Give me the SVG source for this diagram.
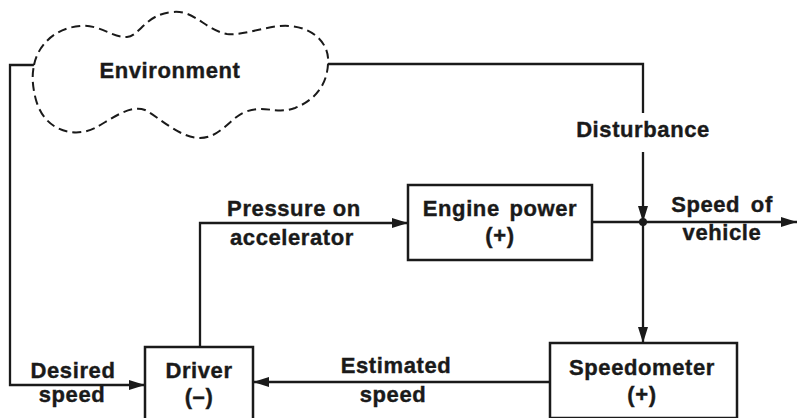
<svg xmlns="http://www.w3.org/2000/svg" width="797" height="418" viewBox="0 0 797 418">
<style>
text{font-family:"Liberation Sans",Arial,sans-serif;font-weight:bold;font-size:22px;fill:#1a1a1a;stroke:#1a1a1a;stroke-width:0.4;text-anchor:middle;letter-spacing:0.6px}
.box{fill:#fff;stroke:#1a1a1a;stroke-width:2.5}
.ln{fill:none;stroke:#1a1a1a;stroke-width:2.3}
.cloud{fill:#fff;stroke:#1a1a1a;stroke-width:2;stroke-dasharray:9 5}
</style>
<defs>
<marker id="ah" viewBox="0 0 16 10" refX="16" refY="5" markerWidth="16" markerHeight="10" markerUnits="userSpaceOnUse" orient="auto">
<path d="M0,0 L16,5 L0,10 Z" fill="#1a1a1a"/>
</marker>
</defs>
<rect width="797" height="418" fill="#fff"/>
<g id="connectors">
<path class="ln" d="M34,65 H10 V385 H145" marker-end="url(#ah)"/>
<path class="ln" d="M328,64 H643 V113"/>
<path class="ln" d="M643,152 V222" marker-end="url(#ah)"/>
<path class="ln" d="M200,347 V223 H408" marker-end="url(#ah)"/>
<path class="ln" d="M592,222 H797" marker-end="url(#ah)"/>
<path class="ln" d="M643,222 V343" marker-end="url(#ah)"/>
<path class="ln" d="M550,382 H253" marker-end="url(#ah)"/>
<circle cx="643" cy="222" r="4" fill="#1a1a1a"/>
<text x="643" y="137">Disturbance</text>
<text x="294" y="216">Pressure on</text>
<text x="292" y="245">accelerator</text>
<text x="722" y="212" word-spacing="4">Speed of</text>
<text x="722" y="240">vehicle</text>
<text x="73" y="378">Desired</text>
<text x="72" y="402">speed</text>
<text x="396" y="373">Estimated</text>
<text x="393" y="402">speed</text>
</g>
<g id="environment">
<path class="cloud" d="M34,65 C38,45 55,28 80,26 C100,24 112,38 127,37 C140,36 145,14 173,12 C195,10 205,30 227,34 C245,36 270,24 290,26 C315,28 330,45 328,64 C327,85 315,100 295,108 C275,115 265,104 245,112 C230,118 220,138 200,138 C180,138 160,118 145,110 C130,104 110,120 95,128 C75,138 45,132 36,100 C32,85 32,75 34,65 Z"/>
<text x="170" y="78">Environment</text>
</g>
<g id="engine">
<rect class="box" x="408" y="185" width="184" height="75"/>
<text x="500" y="216" word-spacing="3">Engine power</text>
<text x="500" y="243">(+)</text>
</g>
<g id="speedometer">
<rect class="box" x="550" y="343" width="187" height="75"/>
<text x="642" y="375">Speedometer</text>
<text x="642" y="402">(+)</text>
</g>
<g id="driver">
<rect class="box" x="145" y="347" width="108" height="75"/>
<text x="199" y="378">Driver</text>
<text x="199" y="404">(–)</text>
</g>
</svg>
